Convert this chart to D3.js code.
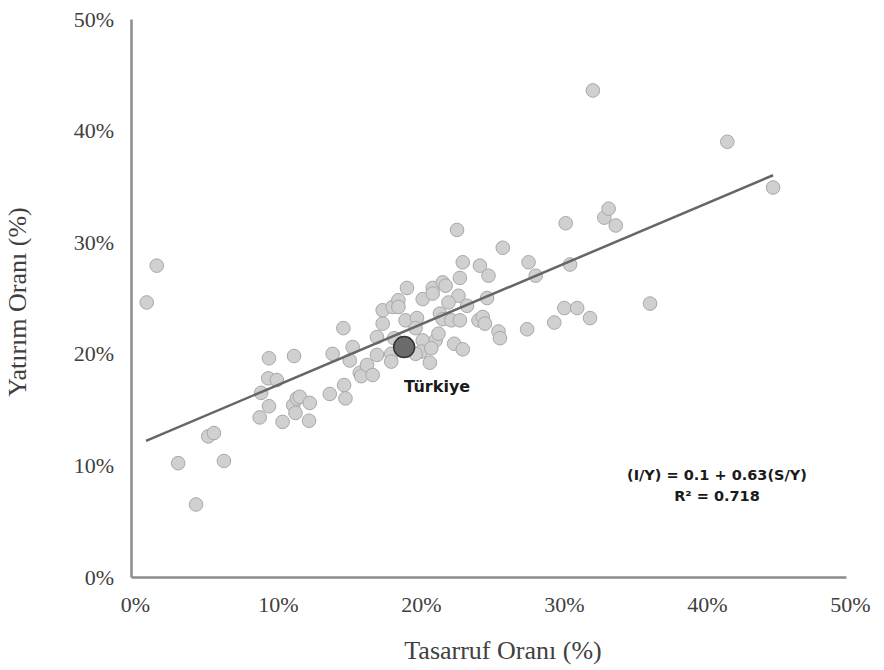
<!DOCTYPE html>
<html>
<head>
<meta charset="utf-8">
<script src="https://cdn.jsdelivr.net/npm/d3@7"></script>
<style>
  body { margin: 0; background: #fff; }
  svg { display: block; }
</style>
</head>
<body>
<svg id="chart"></svg>
<script>
const width = 884
const height = 670

// savings rate (x) and investment rate (y), in %
const savings = [
  1.1, 1.8, 3.3, 4.55, 5.4, 5.8, 6.5,
  9.0, 9.1, 9.65, 9.65, 9.6, 10.2, 10.6, 11.4, 11.35, 11.6, 11.8, 11.5, 12.5, 12.45,
  13.9, 14.1, 14.85, 14.9, 15.0, 15.5, 15.3, 16.0, 16.1, 16.5, 16.9, 17.2, 17.2, 17.6, 17.6,
  18.3, 18.7, 18.7, 18.4, 18.2, 18.2, 19.2, 19.3, 20.4, 20.0, 19.9,
  20.4, 21.3, 21.5, 20.3, 21.0, 20.9, 19.9,
  21.1, 21.8, 22.0, 21.1, 22.9, 22.2, 23.5, 24.9, 21.6, 21.8, 22.4, 23.0, 24.3, 24.6, 24.75,
  22.6, 23.2, 25.7, 25.8, 27.7, 23.0, 23.2, 24.4, 25.0, 27.8, 28.3, 26.0, 22.8,
  29.6, 30.3, 31.2, 32.1, 36.3, 30.7, 30.4, 33.1, 33.4, 33.9, 32.3, 41.7, 44.9
]
const investment = [
  24.6, 27.9, 10.2, 6.5, 12.6, 12.9, 10.4,
  14.3, 16.5, 15.3, 19.6, 17.8, 17.65, 13.9, 19.8, 15.4, 16.0, 16.15, 14.7, 15.6, 14.0,
  16.4, 20.0, 22.3, 17.2, 16.0, 20.6, 19.4, 18.3, 18.0, 19.0, 18.1, 19.9, 21.5, 22.7, 23.9,
  24.2, 24.8, 24.2, 21.4, 20.0, 19.3, 23.0, 25.9, 24.9, 23.2, 22.3,
  21.2, 21.2, 21.8, 20.2, 20.5, 19.2, 20.0,
  25.9, 26.4, 26.1, 25.4, 25.2, 24.6, 24.3, 25.0, 23.6, 23.1, 23.0, 23.0, 23.0, 23.3, 22.7,
  20.9, 20.4, 22.0, 21.4, 22.2, 26.8, 28.2, 27.9, 27.0, 28.2, 27.0, 29.5, 31.1,
  22.8, 24.1, 24.1, 23.2, 24.5, 28.0, 31.7, 32.2, 33.0, 31.5, 43.6, 39.0, 34.9
]

const turkeySaving = [19.1]
const turkeyInvestment = [20.6]
const turkeyLabel = ['Türkiye']

// fitted line as drawn, endpoints in %
const trendX = [1.05, 44.9]
const trendY = [12.2, 36.0]

const tickValues = [0, 10, 20, 30, 40, 50]
const equationLines = ['(I/Y) = 0.1 + 0.63(S/Y)', 'R² = 0.718']

const svg = d3.select('#chart')
  .attr('width', width)
  .attr('height', height)

const x = d3.scaleLinear().domain([0, 50]).range([131, 846])
const y = d3.scaleLinear().domain([0, 50]).range([577, 19])

const serif = 'Liberation Serif, Times New Roman, serif'

// axes
const xAxis = svg.append('g')
  .attr('transform', `translate(0,${y(0)})`)
  .call(d3.axisBottom(x).tickValues(tickValues).tickFormat(d => d + '%').tickSize(0).tickPadding(19))
xAxis.select('.domain').attr('stroke', '#8c8c8c').attr('stroke-width', 2.5)
xAxis.selectAll('text')
  .attr('font-family', serif)
  .attr('font-size', 22)
  .attr('fill', '#404040')
  .attr('dx', 4)

const yAxis = svg.append('g')
  .attr('transform', `translate(${x(0)},0)`)
  .call(d3.axisLeft(y).tickValues(tickValues).tickFormat(d => d + '%').tickSize(0).tickPadding(17))
yAxis.select('.domain').attr('stroke', '#8c8c8c').attr('stroke-width', 2.5)
yAxis.selectAll('text')
  .attr('font-family', serif)
  .attr('font-size', 22)
  .attr('fill', '#404040')

// axis titles
svg.append('text')
  .attr('x', 503)
  .attr('y', 659)
  .attr('text-anchor', 'middle')
  .attr('font-family', serif)
  .attr('font-size', 26)
  .attr('fill', '#404040')
  .text('Tasarruf Oranı (%)')

svg.append('text')
  .attr('transform', 'translate(26,302) rotate(-90)')
  .attr('text-anchor', 'middle')
  .attr('font-family', serif)
  .attr('font-size', 26)
  .attr('fill', '#404040')
  .text('Yatırım Oranı (%)')

// points
const points = savings.map((s, i) => ({ s, inv: investment[i] }))
svg.append('g')
  .selectAll('circle')
  .data(points)
  .join('circle')
  .attr('cx', d => x(d.s))
  .attr('cy', d => y(d.inv))
  .attr('r', 6.8)
  .attr('fill', '#d0d0d0')
  .attr('stroke', '#a8a8a8')
  .attr('stroke-width', 1)

// trend line
const line = d3.line().x(d => x(d[0])).y(d => y(d[1]))
svg.append('path')
  .datum(trendX.map((v, i) => [v, trendY[i]]))
  .attr('d', line)
  .attr('stroke', '#666')
  .attr('stroke-width', 2.5)
  .attr('fill', 'none')

// Türkiye
svg.append('circle')
  .attr('cx', x(turkeySaving[0]))
  .attr('cy', y(turkeyInvestment[0]))
  .attr('r', 10.5)
  .attr('fill', '#6b6b6b')
  .attr('stroke', '#333')
  .attr('stroke-width', 1.5)

svg.append('text')
  .attr('x', x(turkeySaving[0]) + 33)
  .attr('y', y(turkeyInvestment[0]) + 45)
  .attr('text-anchor', 'middle')
  .attr('font-family', 'DejaVu Sans, sans-serif')
  .attr('font-weight', 700)
  .attr('font-size', 16)
  .attr('fill', '#1a1a1a')
  .text(turkeyLabel[0])

// equation
svg.append('g')
  .selectAll('text')
  .data(equationLines)
  .join('text')
  .attr('x', 717)
  .attr('y', (d, i) => 480 + i * 21)
  .attr('text-anchor', 'middle')
  .attr('font-family', 'DejaVu Sans, sans-serif')
  .attr('font-weight', 700)
  .attr('font-size', 14.5)
  .attr('fill', '#1a1a1a')
  .text(d => d)
</script>
</body>
</html>
